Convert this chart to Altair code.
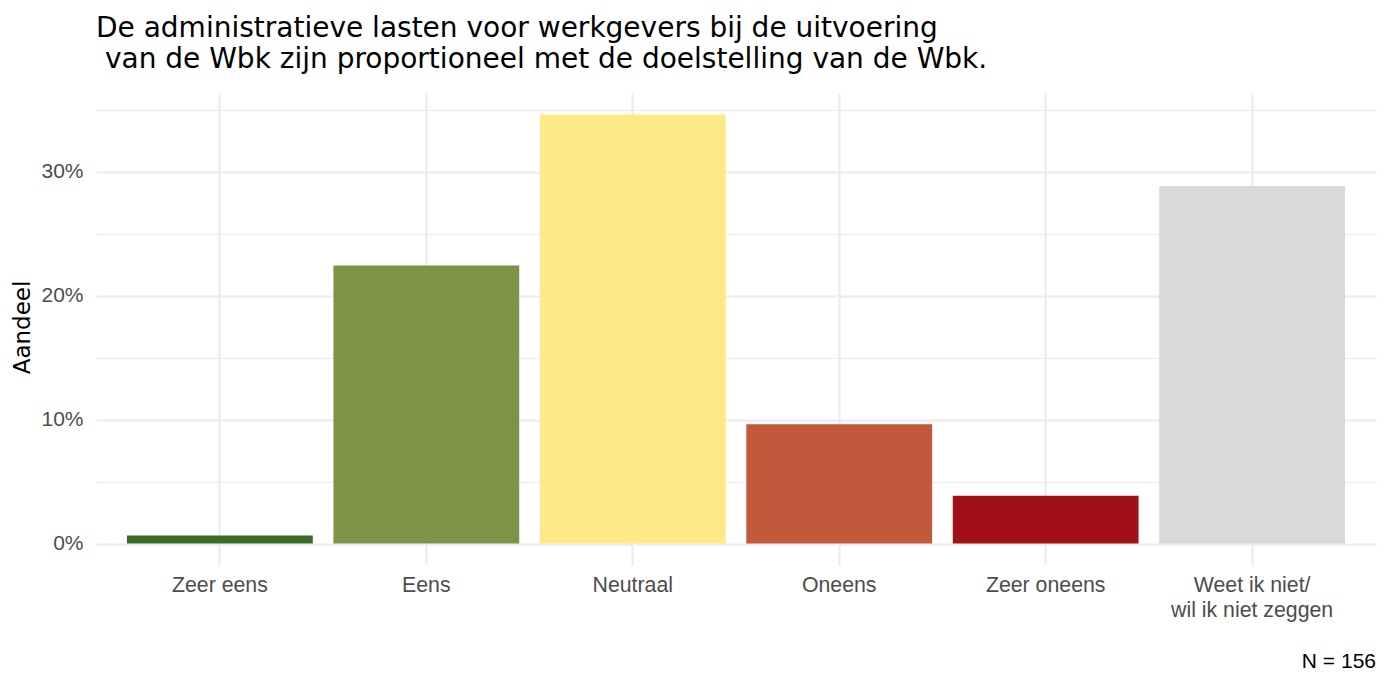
import altair as alt
import pandas as pd

FONT = "Liberation Sans"
TFONT = "DejaVu Sans"

categories = ["Zeer eens", "Eens", "Neutraal", "Oneens", "Zeer oneens",
              "Weet ik niet/\nwil ik niet zeggen"]
shares = [0.0064, 0.2244, 0.3462, 0.0962, 0.0385, 0.2885]
colors = ["#386B25", "#7E9346", "#FDE986", "#C2593A", "#A21017", "#D9D9D9"]
y_ticks = [0, 0.05, 0.10, 0.15, 0.20, 0.25, 0.30, 0.35]
title_lines = ["De administratieve lasten voor werkgevers bij de uitvoering",
               "\u200b\u00a0van de Wbk zijn proportioneel met de doelstelling van de Wbk."]
y_title = "Aandeel"
caption = ["N = 156"]

W, H = 1280, 472

df = pd.DataFrame({"cat": categories, "share": shares})

bars = alt.Chart(df).mark_bar().encode(
    x=alt.X("cat:N", sort=categories,
            scale=alt.Scale(paddingInner=0.1, paddingOuter=0.15),
            axis=alt.Axis(title=None, labelAngle=0,
                          labelExpr="split(datum.label, '\\n')",
                          labelFont=FONT, labelFontSize=21.3, labelColor="#4D4D4D",
                          labelPadding=9.5, labelLineHeight=25, labelBaseline="top",
                          labelLimit=400,
                          domain=False, ticks=False, grid=True,
                          gridColor="#EBEBEB", gridWidth=2.1, bandPosition=0.5)),
    y=alt.Y("share:Q",
            scale=alt.Scale(domain=[-0.0173, 0.3635], nice=False, zero=False),
            axis=alt.Axis(values=y_ticks, format=".0%",
                          labelExpr="round(datum.value*100) % 10 == 0 ? datum.label : ''",
                          gridWidth={"condition": {"test": "round(datum.value*100) % 10 == 0",
                                                   "value": 2.1},
                                     "value": 1.1},
                          gridColor="#EBEBEB", domain=False, ticks=False,
                          labelFont=FONT, labelFontSize=21, labelColor="#4D4D4D",
                          labelPadding=13,
                          title=y_title, titleFont=TFONT, titleFontSize=23,
                          titleColor="black", titleFontWeight="normal",
                          titleAngle=270, titleX=-66.5, titleY=H / 2 - 2,
                          titleBaseline="alphabetic", titleAlign="center")),
    y2=alt.datum(0),
    color=alt.Color("cat:N", scale=alt.Scale(domain=categories, range=colors),
                    legend=None),
)

cap = alt.Chart(pd.DataFrame({"t": caption})).mark_text(
    align="right", baseline="alphabetic", fontSize=21, font=FONT, color="black"
).encode(x=alt.value(W), y=alt.value(575), text="t:N")

chart = alt.layer(bars, cap).properties(
    width=W, height=H,
    title=alt.TitleParams(text=title_lines, anchor="start", frame="group",
                          fontSize=28, lineHeight=31, font=TFONT,
                          fontWeight="normal", color="black", offset=19),
    autosize=alt.AutoSizeParams(type="none"),
    padding={"left": 88, "top": 85, "right": 3, "bottom": 108},
).configure(
    background="white",
    view=alt.ViewConfig(stroke="transparent", strokeWidth=0),
)

chart.save("out.html", embed_options={"renderer": "svg", "actions": False})
